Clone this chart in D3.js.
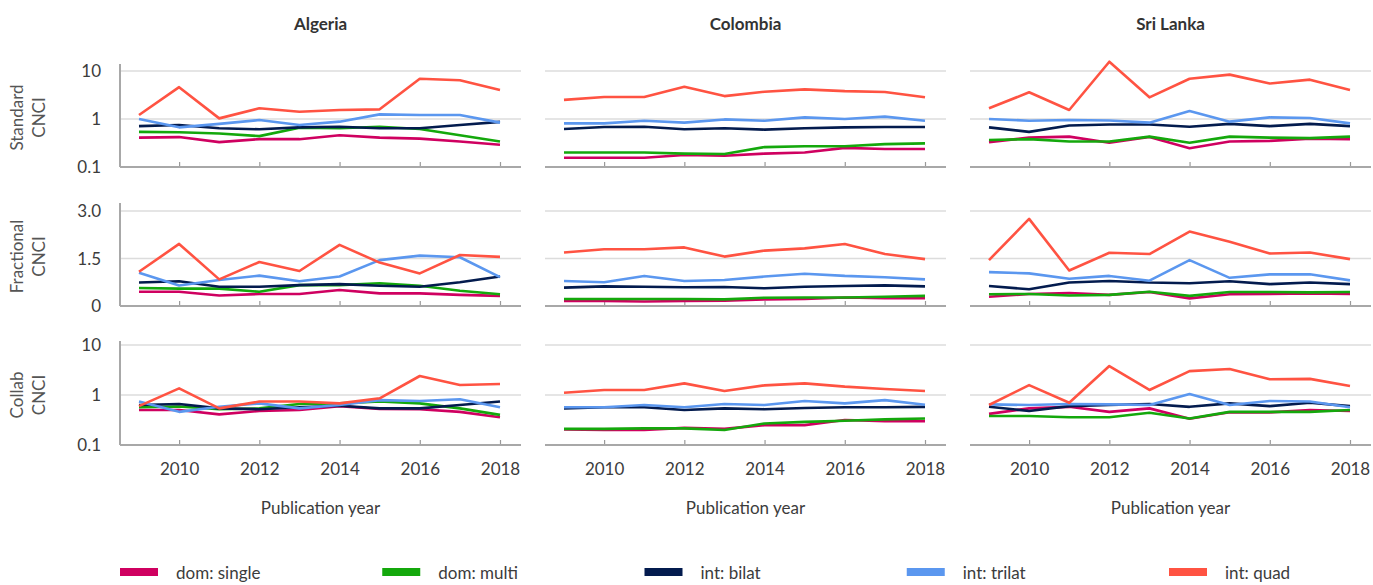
<!DOCTYPE html>
<html>
<head>
<meta charset="utf-8">
<script src="https://cdn.jsdelivr.net/npm/d3@7"></script>
<style>
  html, body { margin: 0; padding: 0; background: #fff; }
  svg { display: block; }
  text { font-family: Lato, "Open Sans", sans-serif; }
</style>
</head>
<body>
<svg id="chart" width="1373" height="585"></svg>
<script>
// ---------------- data ----------------
const years = [2009, 2010, 2011, 2012, 2013, 2014, 2015, 2016, 2017, 2018];
const xTickYears = [2010, 2012, 2014, 2016, 2018];
const countries = ["Algeria", "Colombia", "Sri Lanka"];
const rowLabels = [["Standard", "CNCI"], ["Fractional", "CNCI"], ["Collab", "CNCI"]];
const seriesNames = ["dom: single", "dom: multi", "int: bilat", "int: trilat", "int: quad"];
const seriesColors = ["#cf0060", "#14a80c", "#031b4e", "#5b97ef", "#ff5342"];
const logTicks = [0.1, 1, 10];
const logTickLabels = ["0.1", "1", "10"];
const fracTicks = [0, 1.5, 3.0];
const fracTickLabels = ["0", "1.5", "3.0"];
const xLabel = "Publication year";

// each array: rows = [single, multi, bilat, trilat, quad]
const algeriaStandard = [
  [0.41, 0.42, 0.33, 0.38, 0.38, 0.46, 0.41, 0.39, 0.34, 0.29],
  [0.54, 0.53, 0.50, 0.44, 0.66, 0.64, 0.69, 0.62, 0.46, 0.34],
  [0.71, 0.75, 0.64, 0.61, 0.67, 0.69, 0.64, 0.64, 0.75, 0.87],
  [1.00, 0.67, 0.79, 0.95, 0.75, 0.88, 1.25, 1.21, 1.21, 0.84],
  [1.21, 4.6, 1.03, 1.67, 1.42, 1.54, 1.59, 6.9, 6.4, 4.0]
];
const colombiaStandard = [
  [0.156, 0.156, 0.156, 0.178, 0.172, 0.19, 0.20, 0.25, 0.237, 0.237],
  [0.20, 0.20, 0.20, 0.19, 0.187, 0.26, 0.27, 0.27, 0.30, 0.31],
  [0.62, 0.68, 0.69, 0.61, 0.64, 0.60, 0.64, 0.67, 0.68, 0.68],
  [0.81, 0.81, 0.92, 0.84, 0.98, 0.92, 1.08, 1.00, 1.12, 0.92],
  [2.5, 2.87, 2.87, 4.7, 3.0, 3.7, 4.15, 3.8, 3.65, 2.83]
];
const sriLankaStandard = [
  [0.33, 0.41, 0.43, 0.32, 0.42, 0.245, 0.34, 0.35, 0.39, 0.38],
  [0.365, 0.38, 0.34, 0.34, 0.43, 0.32, 0.43, 0.41, 0.40, 0.43],
  [0.67, 0.54, 0.73, 0.77, 0.77, 0.69, 0.79, 0.71, 0.79, 0.71],
  [1.00, 0.92, 0.95, 0.93, 0.84, 1.47, 0.88, 1.08, 1.05, 0.81],
  [1.67, 3.6, 1.54, 15.6, 2.83, 6.9, 8.4, 5.5, 6.6, 4.0]
];
const algeriaFractional = [
  [0.45, 0.45, 0.33, 0.38, 0.38, 0.505, 0.40, 0.40, 0.35, 0.32],
  [0.57, 0.55, 0.55, 0.45, 0.66, 0.66, 0.72, 0.64, 0.48, 0.37],
  [0.74, 0.78, 0.61, 0.61, 0.66, 0.69, 0.64, 0.61, 0.75, 0.93],
  [1.05, 0.65, 0.82, 0.96, 0.78, 0.93, 1.45, 1.59, 1.54, 0.91],
  [1.08, 1.96, 0.84, 1.39, 1.105, 1.93, 1.37, 1.03, 1.61, 1.55]
];
const colombiaFractional = [
  [0.16, 0.16, 0.14, 0.16, 0.17, 0.21, 0.22, 0.27, 0.25, 0.25],
  [0.22, 0.22, 0.22, 0.22, 0.21, 0.26, 0.27, 0.27, 0.29, 0.32],
  [0.58, 0.62, 0.61, 0.59, 0.60, 0.56, 0.61, 0.63, 0.65, 0.62],
  [0.79, 0.75, 0.95, 0.79, 0.82, 0.93, 1.02, 0.95, 0.91, 0.84],
  [1.69, 1.79, 1.79, 1.85, 1.56, 1.75, 1.82, 1.96, 1.64, 1.48]
];
const sriLankaFractional = [
  [0.29, 0.38, 0.41, 0.35, 0.44, 0.24, 0.37, 0.38, 0.40, 0.38],
  [0.37, 0.38, 0.33, 0.35, 0.45, 0.32, 0.44, 0.44, 0.43, 0.44],
  [0.63, 0.53, 0.74, 0.79, 0.74, 0.72, 0.78, 0.69, 0.74, 0.69],
  [1.07, 1.03, 0.86, 0.95, 0.80, 1.45, 0.89, 1.00, 1.00, 0.81],
  [1.45, 2.75, 1.12, 1.68, 1.64, 2.35, 2.03, 1.66, 1.69, 1.48]
];
const algeriaCollab = [
  [0.50, 0.50, 0.41, 0.48, 0.50, 0.60, 0.525, 0.52, 0.46, 0.36],
  [0.57, 0.59, 0.52, 0.54, 0.66, 0.68, 0.74, 0.68, 0.54, 0.40],
  [0.63, 0.66, 0.54, 0.52, 0.57, 0.61, 0.54, 0.54, 0.63, 0.74],
  [0.74, 0.46, 0.58, 0.68, 0.54, 0.63, 0.79, 0.76, 0.82, 0.57],
  [0.60, 1.36, 0.54, 0.74, 0.74, 0.68, 0.86, 2.4, 1.58, 1.66]
];
const colombiaCollab = [
  [0.205, 0.20, 0.20, 0.22, 0.21, 0.25, 0.25, 0.316, 0.30, 0.30],
  [0.21, 0.21, 0.215, 0.215, 0.20, 0.27, 0.29, 0.305, 0.325, 0.34],
  [0.54, 0.57, 0.57, 0.50, 0.54, 0.52, 0.55, 0.57, 0.57, 0.58],
  [0.57, 0.57, 0.63, 0.57, 0.66, 0.63, 0.76, 0.68, 0.79, 0.64],
  [1.11, 1.26, 1.26, 1.71, 1.20, 1.56, 1.71, 1.47, 1.32, 1.20]
];
const sriLankaCollab = [
  [0.42, 0.54, 0.58, 0.46, 0.54, 0.336, 0.45, 0.45, 0.50, 0.48],
  [0.38, 0.38, 0.36, 0.36, 0.44, 0.34, 0.46, 0.46, 0.46, 0.50],
  [0.58, 0.48, 0.60, 0.63, 0.66, 0.58, 0.68, 0.60, 0.70, 0.60],
  [0.65, 0.63, 0.66, 0.65, 0.63, 1.05, 0.63, 0.76, 0.74, 0.57],
  [0.63, 1.58, 0.70, 3.8, 1.26, 3.0, 3.3, 2.06, 2.1, 1.51]
];

const grid = [
  [algeriaStandard, colombiaStandard, sriLankaStandard],
  [algeriaFractional, colombiaFractional, sriLankaFractional],
  [algeriaCollab, colombiaCollab, sriLankaCollab]
];

// ---------------- layout ----------------
const svg = d3.select("#chart");
const panelX = [120, 545, 970];
const panelW = 401;
const rows = [
  { scale: d3.scaleLog().domain([0.1, 10]).range([167, 71]), top: 64, ticks: logTicks, labels: logTickLabels },
  { scale: d3.scaleLinear().domain([0, 3]).range([306, 211]), top: 203, ticks: fracTicks, labels: fracTickLabels },
  { scale: d3.scaleLog().domain([0.1, 10]).range([445, 345]), top: 341, ticks: logTicks, labels: logTickLabels }
];
const textColor = "#3c3c3c";

// column titles
countries.forEach((c, ci) => {
  svg.append("text")
    .attr("x", panelX[ci] + panelW / 2).attr("y", 30)
    .attr("text-anchor", "middle")
    .attr("font-size", 17).attr("font-weight", 700).attr("fill", "#333")
    .text(c);
});

rows.forEach((row, ri) => {
  const y = row.scale;
  const bottom = y.range()[0];
  // row label
  const midY = (row.top + bottom) / 2 + 2;
  rowLabels[ri].forEach((line, li) => {
    svg.append("text")
      .attr("transform", `translate(${23 + li * 22},${midY}) rotate(-90)`)
      .attr("text-anchor", "middle")
      .attr("font-size", 17).attr("fill", "#555")
      .text(line);
  });
  // y tick labels
  row.ticks.forEach((t, ti) => {
    svg.append("text")
      .attr("x", 101).attr("y", y(t)).attr("dy", "0.36em")
      .attr("text-anchor", "end")
      .attr("font-size", 17).attr("fill", textColor)
      .text(row.labels[ti]);
  });

  countries.forEach((c, ci) => {
    const x0 = panelX[ci];
    const x = d3.scaleLinear().domain([2009, 2018]).range([x0 + 19, x0 + 380]);
    const g = svg.append("g");
    // gridlines (non-bottom ticks)
    row.ticks.slice(1).forEach(t => {
      g.append("line")
        .attr("x1", x0).attr("x2", x0 + panelW)
        .attr("y1", y(t)).attr("y2", y(t))
        .attr("stroke", "#dcdcdc").attr("stroke-width", 1.5);
    });
    // bottom axis
    const xAxis = d3.axisBottom(x).tickValues(xTickYears).tickSizeInner(-5).tickSizeOuter(0)
      .tickFormat(ri === 2 ? d3.format("d") : () => "");
    const ax = g.append("g").attr("transform", `translate(0,${bottom})`).call(xAxis);
    ax.select(".domain").remove();
    ax.selectAll(".tick line").attr("stroke", "#9a9a9a").attr("stroke-width", 1.2);
    ax.selectAll(".tick text").attr("font-size", 17).attr("fill", textColor)
      .attr("font-family", "Lato, sans-serif").attr("y", 18).attr("dy", "0.71em");
    g.append("line")
      .attr("x1", x0).attr("x2", x0 + panelW)
      .attr("y1", bottom).attr("y2", bottom)
      .attr("stroke", "#a8a8a8").attr("stroke-width", 2);
    if (ci === 0) {
      g.append("line")
        .attr("x1", x0).attr("x2", x0)
        .attr("y1", row.top).attr("y2", bottom)
        .attr("stroke", "#a8a8a8").attr("stroke-width", 2);
    }
    // lines
    const line = d3.line().x((d, i) => x(years[i])).y(d => y(d));
    grid[ri][ci].forEach((vals, si) => {
      g.append("path")
        .datum(vals)
        .attr("d", line)
        .attr("fill", "none")
        .attr("stroke", seriesColors[si])
        .attr("stroke-width", 2.6)
        .attr("stroke-linejoin", "round");
    });
    if (ri === 2) {
      svg.append("text")
        .attr("x", x0 + panelW / 2).attr("y", 514)
        .attr("text-anchor", "middle")
        .attr("font-size", 17).attr("fill", textColor)
        .text(xLabel);
    }
  });
});

// legend
const legendX = d3.scalePoint().domain(seriesNames).range([120, 1169]);
seriesNames.forEach((s, si) => {
  const lx = legendX(s);
  svg.append("rect")
    .attr("x", lx).attr("y", 568).attr("width", 38).attr("height", 8)
    .attr("fill", seriesColors[si]);
  svg.append("text")
    .attr("x", lx + 56).attr("y", 579)
    .attr("font-size", 17).attr("fill", textColor)
    .text(s);
});
</script>
</body>
</html>
